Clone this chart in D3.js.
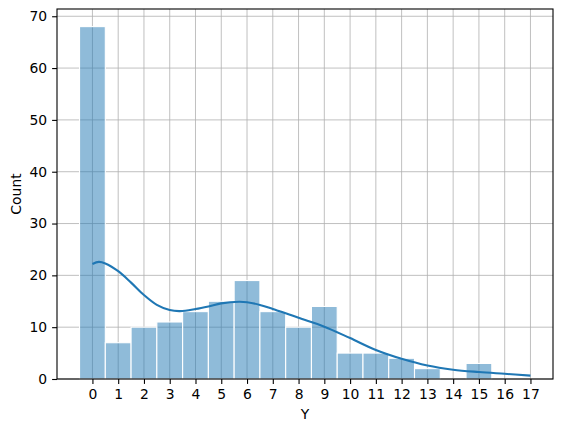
<!DOCTYPE html>
<html><head><meta charset="utf-8">
<script src="https://cdn.jsdelivr.net/npm/d3@7"></script>
<style>body{margin:0;background:#fff}text{font-family:"DejaVu Sans",sans-serif}</style>
</head><body><svg id="c" width="562" height="432"></svg>
<script>
const categories = [0,1,2,3,4,5,6,7,8,9,10,11,12,13,14,15,16,17];
const counts = [68,7,10,11,13,15,19,13,10,14,5,5,4,2,0,3];
const yTicks = [0,10,20,30,40,50,60,70];
const kdeX = [0,0.25,0.5,1,1.5,2,2.5,3,3.4,4,4.5,5,5.7,6,6.5,7,7.5,8,9,10,11,12,13,14,15,16,17];
const kdeY = [22.2,22.6,22.3,20.8,18.6,16.2,14.3,13.3,13.1,13.5,14.0,14.6,14.9,14.8,14.3,13.5,12.7,11.8,10.1,7.9,5.6,3.9,2.6,1.8,1.35,1.0,0.65];

const svg = d3.select("#c");
const L=57,R=553,T=9,B=379;
const x = d3.scaleLinear().domain([-1.375,17.875]).range([L,R]);
const y = d3.scaleLinear().domain([0,71.4]).range([B,T]);
const fs = "13.9px";

// grid
const g = svg.append("g");
g.selectAll("line.vx").data(categories).join("line")
  .attr("x1",d=>x(d)).attr("x2",d=>x(d)).attr("y1",T).attr("y2",B)
  .attr("stroke","#b0b0b0").attr("stroke-width",0.8);
g.selectAll("line.hy").data(yTicks).join("line")
  .attr("y1",d=>y(d)).attr("y2",d=>y(d)).attr("x1",L).attr("x2",R)
  .attr("stroke","#b0b0b0").attr("stroke-width",0.8);

// bars
svg.append("g").selectAll("rect").data(counts.map((c,i)=>({c,i}))).join("rect")
  .filter(d=>d.c>0)
  .attr("x",d=>x(d.i-0.5)).attr("width",d=>x(d.i+0.5)-x(d.i-0.5))
  .attr("y",d=>y(d.c)).attr("height",d=>B-y(d.c))
  .attr("fill","#1f77b4").attr("fill-opacity",0.5)
  .attr("stroke","#fff").attr("stroke-width",1.1);

// kde
svg.append("path").datum(kdeX.map((v,i)=>[v,kdeY[i]]))
  .attr("d",d3.line().x(d=>x(d[0])).y(d=>y(d[1])).curve(d3.curveCatmullRom))
  .attr("fill","none").attr("stroke","#1f77b4").attr("stroke-width",2.1);

// axes
const xa = svg.append("g").attr("transform",`translate(0,${B})`)
  .call(d3.axisBottom(x).tickValues(categories).tickFormat(d3.format("d")).tickSize(4.9).tickPadding(4.9));
const ya = svg.append("g").attr("transform",`translate(${L},0)`)
  .call(d3.axisLeft(y).tickValues(yTicks).tickFormat(d3.format("d")).tickSize(4.9).tickPadding(4.9));
[xa,ya].forEach(a=>{a.select(".domain").remove();
  a.selectAll("text").attr("font-size",fs).attr("fill","#000").attr("font-family","DejaVu Sans");
  a.selectAll("line").attr("stroke","#000").attr("stroke-width",1.1);});
svg.append("rect").attr("x",L).attr("y",T).attr("width",R-L).attr("height",B-T)
  .attr("fill","none").attr("stroke","#000").attr("stroke-width",1.1);

svg.append("text").attr("x",(L+R)/2).attr("y",419).attr("text-anchor","middle").attr("font-size",fs).text("Y");
svg.append("text").attr("transform",`translate(21,${(T+B)/2}) rotate(-90)`).attr("text-anchor","middle").attr("font-size",fs).text("Count");
</script></body></html>
